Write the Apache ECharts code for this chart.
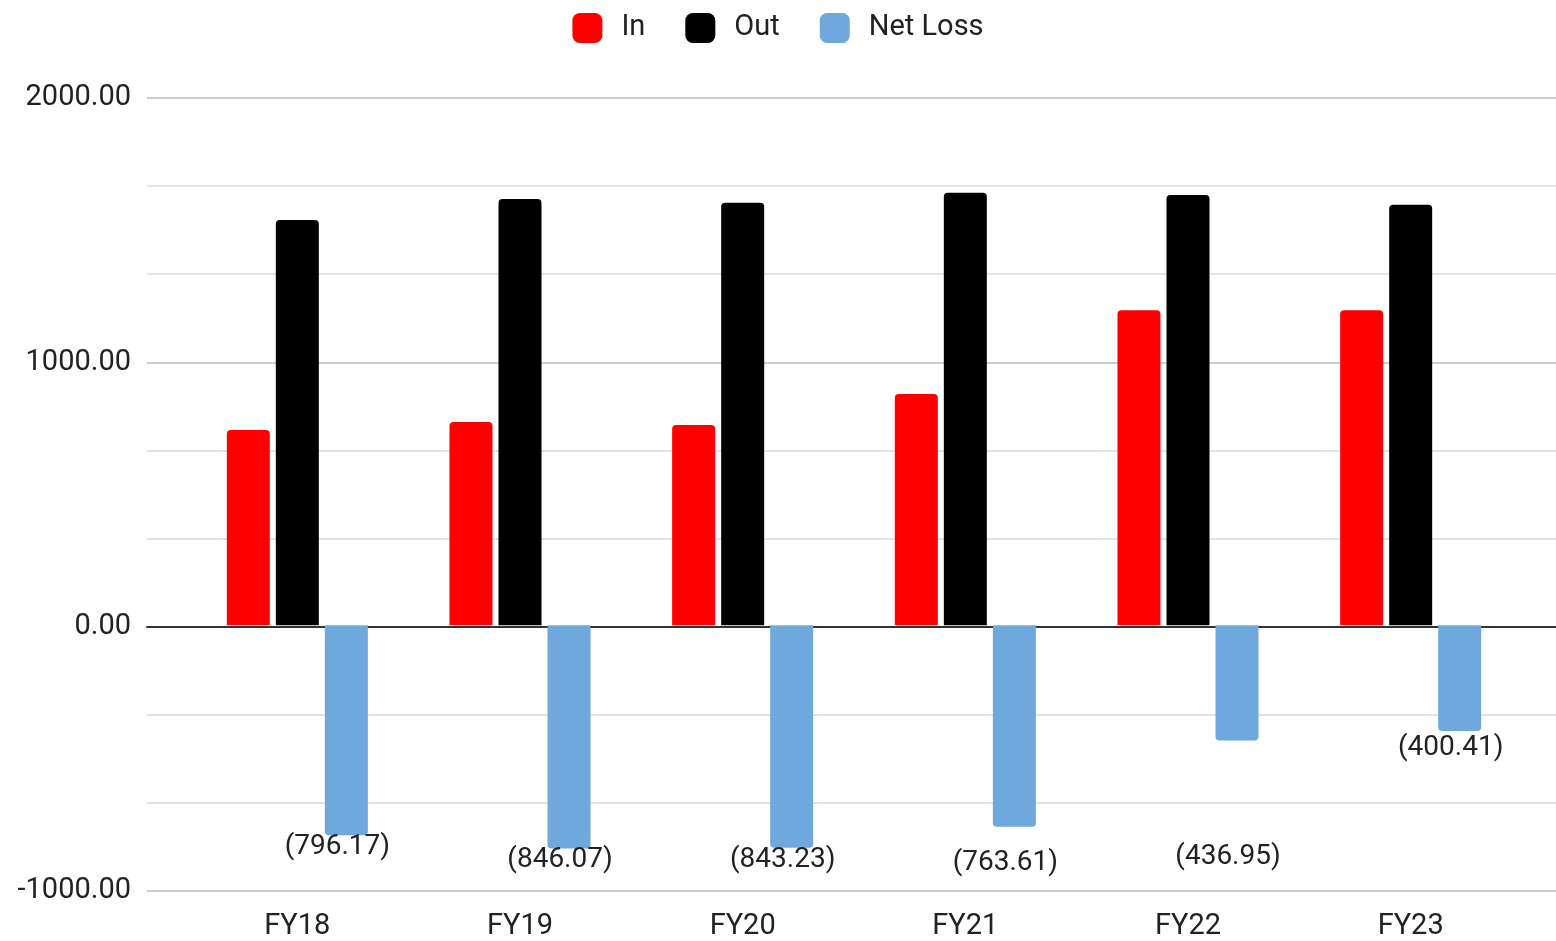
<!DOCTYPE html>
<html><head><meta charset="utf-8">
<script src="https://cdn.jsdelivr.net/npm/echarts@6/dist/echarts.min.js"></script>
<style>html,body{margin:0;padding:0;background:#fff}#c{width:1556px;height:941px}</style>
</head><body><div id="c"></div>
<script>
const categories = ['FY18','FY19','FY20','FY21','FY22','FY23'];
const inValues = [741, 771, 760, 877, 1195, 1195];
const outValues = [1537, 1617, 1603, 1641, 1632, 1595];
const netLoss = [-796.17, -846.07, -843.23, -763.61, -436.95, -400.41];
const yTicks = [-1000, 0, 1000, 2000];

const font = 'Roboto, "Liberation Sans", Arial, sans-serif';
const chart = echarts.init(document.getElementById('c'), null, {renderer:'canvas'});
const labelShift = {3:24, 4:104, 5:5};
const netData = netLoss.map((v,i) => labelShift[i] !== undefined ? {value:v, label:{offset:[-9,labelShift[i]]}} : v);
chart.setOption({
  animation:false,
  textStyle:{fontFamily:font},
  legend:{
    top:8, left:'center', itemWidth:30, itemHeight:30, itemGap:40,
    icon:'roundRect',
    textStyle:{fontSize:29, color:'#222', fontFamily:font, padding:[0,0,0,14]},
    data:['In','Out','Net Loss']
  },
  grid:[
    {left:147, right:0, top:98, bottom:50},
    {left:186, right:34, top:98, bottom:50}
  ],
  xAxis:[
    {gridIndex:0, type:'value', min:0, max:1, axisLabel:{show:false}, axisTick:{show:false}, splitLine:{show:false},
     axisLine:{show:true, onZero:true, lineStyle:{color:'#333', width:2}}},
    {gridIndex:1, type:'category', data:categories, axisLine:{show:false}, axisTick:{show:false},
     axisLabel:{fontSize:29, color:'#222', margin:23, fontFamily:font}}
  ],
  yAxis:[
    {gridIndex:0, type:'value', min:-1000, max:2000, interval:1000,
     axisLine:{show:false}, axisTick:{show:false},
     axisLabel:{fontSize:29, color:'#222', margin:16, fontFamily:font, padding:[4,0,0,0],
       formatter:v => yTicks.includes(v) ? v.toFixed(2) : ''},
     splitLine:{lineStyle:{color:'#cccccc', width:2}},
     minorTick:{show:false, splitNumber:3},
     minorSplitLine:{show:true, lineStyle:{color:'#e3e3e3', width:2}}},
    {gridIndex:1, type:'value', min:-1000, max:2000, interval:1000, show:false, splitLine:{show:false}}
  ],
  series:[
    {name:'In', type:'bar', xAxisIndex:1, yAxisIndex:1, data:inValues, barWidth:43, barGap:'14%',
     itemStyle:{color:'#ff0000', borderRadius:[4,4,0,0]}},
    {name:'Out', type:'bar', xAxisIndex:1, yAxisIndex:1, data:outValues, barWidth:43, barGap:'14%',
     itemStyle:{color:'#000000', borderRadius:[4,4,0,0]}},
    {name:'Net Loss', type:'bar', xAxisIndex:1, yAxisIndex:1, data:netData, barWidth:43, barGap:'14%',
     itemStyle:{color:'#6fa8dc', borderRadius:[0,0,4,4]},
     label:{show:true, position:'bottom', distance:-2, offset:[-9,0], fontSize:28, color:'#222', fontFamily:font,
       formatter:p => '(' + Math.abs(p.value).toFixed(2) + ')'}}
  ]
});
</script></body></html>
